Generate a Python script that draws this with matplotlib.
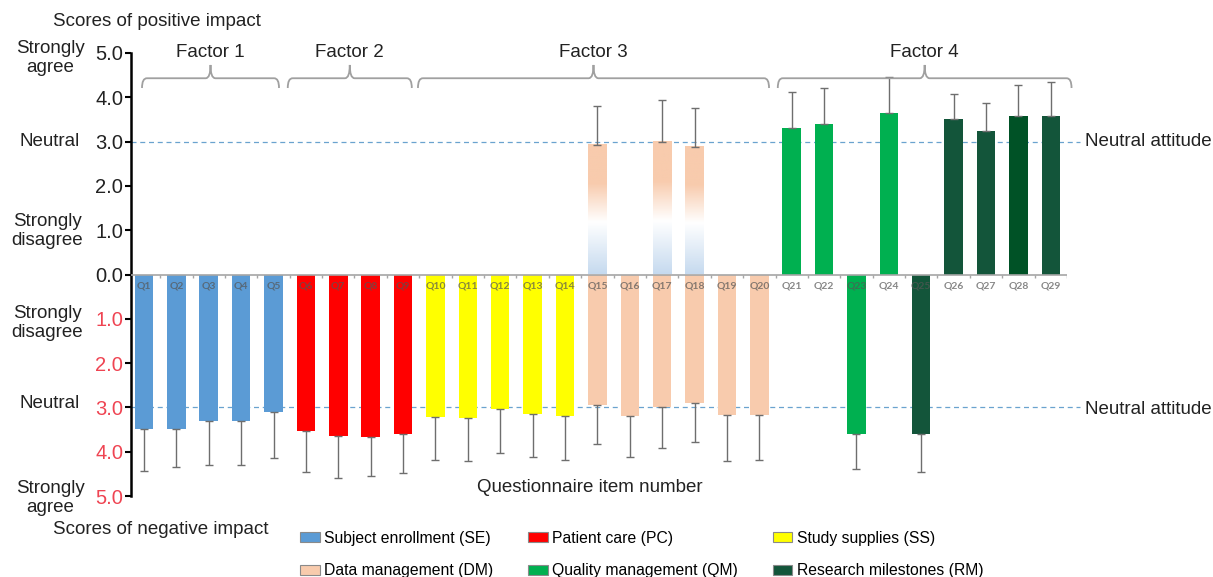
import numpy as np
import matplotlib
matplotlib.use('Agg')
import matplotlib.pyplot as plt
from matplotlib.path import Path
from matplotlib.patches import PathPatch, Patch
from matplotlib.colors import LinearSegmentedColormap

plt.rcParams['font.family'] = ['Liberation Sans', 'DejaVu Sans']

# questionnaire items and the domain each belongs to
items = ['Q%d' % i for i in range(1, 30)]
domain = (['SE'] * 5 + ['PC'] * 4 + ['SS'] * 5 + ['DM'] * 6 +
          ['QM', 'QM', 'QM', 'QM', 'RM', 'RM', 'RM', 'RM', 'RM'])

# scores of negative impact (mean, sd); nan = not asked
neg_mean = [3.49, 3.49, 3.31, 3.31, 3.10, 3.54, 3.65, 3.66, 3.60, 3.21,
            3.23, 3.04, 3.14, 3.20, 2.95, 3.19, 2.99, 2.89, 3.18, 3.17,
            np.nan, np.nan, 3.59, np.nan, 3.59, np.nan, np.nan, np.nan, np.nan]
neg_sd = [0.94, 0.85, 1.00, 1.00, 1.05, 0.91, 0.95, 0.89, 0.88, 0.97,
          0.98, 1.00, 0.99, 0.98, 0.88, 0.94, 0.93, 0.90, 1.03, 1.01,
          np.nan, np.nan, 0.80, np.nan, 0.87, np.nan, np.nan, np.nan, np.nan]

# scores of positive impact (mean, sd)
pos_mean = [np.nan] * 14 + [2.93, np.nan, 2.98, 2.87, np.nan, np.nan,
                            3.30, 3.40, np.nan, 3.65, np.nan, 3.51, 3.24, 3.57, 3.58]
pos_sd = [np.nan] * 14 + [0.88, np.nan, 0.95, 0.89, np.nan, np.nan,
                          0.81, 0.80, np.nan, 0.80, np.nan, 0.57, 0.64, 0.70, 0.76]

factors = ['Factor 1', 'Factor 2', 'Factor 3', 'Factor 4']
factor_items = [(0, 4), (5, 8), (9, 19), (20, 28)]

legend_names = {'SE': 'Subject enrollment (SE)', 'PC': 'Patient care (PC)',
                'SS': 'Study supplies (SS)', 'DM': 'Data management (DM)',
                'QM': 'Quality management (QM)', 'RM': 'Research milestones (RM)'}
ytick_vals = [-5, -4, -3, -2, -1, 0, 1, 2, 3, 4, 5]

colors = {'SE': '#5b9bd5', 'PC': '#ff0000', 'SS': '#ffff00',
          'DM': '#f8cbad', 'QM': '#00b050', 'RM': '#13553a'}
override = {'Q28': '#005226'}
# how far each brace reaches past its first / last item
brace_pad = [(0.06, 0.17), (0.56, 0.27), (0.54, 0.3), (0.43, 0.64)]

W, H = 1213, 577
fig = plt.figure(figsize=(W / 100, H / 100), dpi=100)
ax = fig.add_axes([131 / W, 81 / H, (1067 - 131) / W, (496 - 53) / H])

x = np.arange(len(items))
bw = 0.57
grad = LinearSegmentedColormap.from_list(
    'dm', [(0, '#c6daef'), (0.4, '#ffffff'), (0.7, '#f8cbad'), (1, '#f8cbad')])

for i, q in enumerate(items):
    c = override.get(q, colors[domain[i]])
    if not np.isnan(neg_mean[i]):
        ax.bar(x[i], -neg_mean[i], bw, color=c, zorder=2)
        ax.errorbar(x[i], -neg_mean[i], yerr=[[neg_sd[i]], [0]], fmt='none',
                    ecolor='#6e6e6e', elinewidth=1, capsize=3, capthick=1, zorder=3)
    if not np.isnan(pos_mean[i]):
        if domain[i] == 'DM':
            g = np.linspace(0, 1, 200)[::-1].reshape(-1, 1)
            ax.imshow(g, cmap=grad, aspect='auto', zorder=2,
                      extent=[x[i] - bw / 2, x[i] + bw / 2, 0, pos_mean[i]])
        else:
            ax.bar(x[i], pos_mean[i], bw, color=c, zorder=2)
        ax.errorbar(x[i], pos_mean[i], yerr=[[0], [pos_sd[i]]], fmt='none',
                    ecolor='#6e6e6e', elinewidth=1, capsize=3, capthick=1, zorder=3)
    ax.text(x[i], -0.25, q, ha='center', va='center', fontsize=7.5, weight='bold',
            family='Lato', color='#555555', alpha=0.7, zorder=4)

ax.set_xlim(-0.4, 28.5)
ax.set_ylim(-5, 5)

# zero line with small ticks between categories
ax.axhline(0, color='#a6a6a6', lw=1.2, zorder=3)
ax.vlines(np.arange(0.5, 29, 1), -0.09, 0, color='#a6a6a6', lw=1, zorder=3)

# neutral attitude lines
for yv in (3, -3):
    ax.axhline(yv, xmin=0, xmax=1.014, color='#6aa3cf', lw=0.9, ls=(0, (4, 3)),
               clip_on=False, zorder=1)

for s in ('top', 'right', 'bottom'):
    ax.spines[s].set_visible(False)
ax.spines['left'].set_linewidth(1.8)
ax.set_xticks([])
ax.set_yticks(ytick_vals)
ax.set_yticklabels(['%.1f' % abs(v) for v in ytick_vals], fontsize=14.5)
for v, lab in zip(ytick_vals, ax.get_yticklabels()):
    lab.set_color('#ef4452' if v < 0 else '#222222')
ax.tick_params(axis='y', length=4, width=1.5, pad=1.5)

# factor braces
def brace(x0, x1, y=4.43, drop=0.22, tip=0.3, dx=0.15):
    xm = (x0 + x1) / 2
    verts = [(x0, y - drop), (x0, y), (x0 + dx, y), (xm - dx, y), (xm, y), (xm, y + tip),
             (xm, y), (xm + dx, y), (x1 - dx, y), (x1, y), (x1, y - drop)]
    codes = [Path.MOVETO, Path.CURVE3, Path.CURVE3, Path.LINETO, Path.CURVE3, Path.CURVE3,
             Path.CURVE3, Path.CURVE3, Path.LINETO, Path.CURVE3, Path.CURVE3]
    ax.add_patch(PathPatch(Path(verts, codes), fill=False, ec='#a0a0a0', lw=1.3,
                           clip_on=False, zorder=3))
    return xm

for name, (a, b), (pa, pb) in zip(factors, factor_items, brace_pad):
    xm = brace(a - pa, b + pb)
    ax.text(xm, 5.02, name, ha='center', va='center', fontsize=13.5,
            color='#222222', clip_on=False)

def ftext(px, py, s, **kw):
    fig.text(px / W, 1 - py / H, s, fontsize=13.5, color='#222222', **kw)

ftext(53, 22, 'Scores of positive impact', ha='left', va='center')
ftext(53, 529, 'Scores of negative impact', ha='left', va='center')
ftext(50, 58, 'Strongly\nagree', ha='center', va='center', linespacing=1.2)
ftext(50, 142, 'Neutral', ha='center', va='center')
ftext(47, 231, 'Strongly\ndisagree', ha='center', va='center', linespacing=1.2)
ftext(47, 323, 'Strongly\ndisagree', ha='center', va='center', linespacing=1.15)
ftext(50, 404, 'Neutral', ha='center', va='center')
ftext(50, 498, 'Strongly\nagree', ha='center', va='center', linespacing=1.15)
ftext(1085, 142, 'Neutral attitude', ha='left', va='center')
ftext(1085, 409, 'Neutral attitude', ha='left', va='center')
ftext(590, 487, 'Questionnaire item number', ha='center', va='center')

order = ['SE', 'DM', 'PC', 'QM', 'SS', 'RM']
handles = [Patch(facecolor=colors[k], edgecolor='#8a8a8a', lw=0.8) for k in order]
fig.legend(handles, [legend_names[k] for k in order], ncol=3, loc='upper left',
           bbox_to_anchor=(300 / W, 1 - 531 / H), frameon=False, fontsize=11.3,
           handlelength=1.25, handleheight=0.6, handletextpad=0.3,
           columnspacing=2.2, labelspacing=1.1, borderpad=0, borderaxespad=0)

fig.savefig('out.png', dpi=100)
